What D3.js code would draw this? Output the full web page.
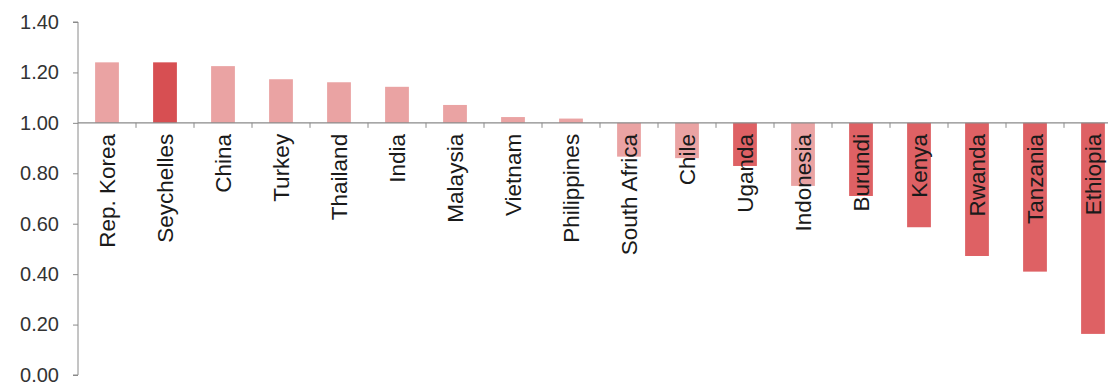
<!DOCTYPE html>
<html><head><meta charset="utf-8">
<script src="https://cdn.jsdelivr.net/npm/d3@7"></script>
<style>body{margin:0;background:#fff}svg{display:block}</style>
</head><body>
<svg id="c" width="1108" height="389"></svg>
<script>
const categories = ["Rep. Korea","Seychelles","China","Turkey","Thailand","India","Malaysia","Vietnam","Philippines","South Africa","Chile","Uganda","Indonesia","Burundi","Kenya","Rwanda","Tanzania","Ethiopia"];
const values = [1.24,1.24,1.225,1.173,1.161,1.143,1.071,1.023,1.017,0.866,0.86,0.829,0.75,0.71,0.586,0.472,0.41,0.163];
const groups = ["light","dark","light","light","light","light","light","light","light","light","light","red","light","red","red","red","red","red"];
const yTicks = [0,0.2,0.4,0.6,0.8,1.0,1.2,1.4];
const baseline = 1.0;
const colors = {light:"#eaa3a3", dark:"#d74f52", red:"#de6164"};

const svg = d3.select("#c");
const x0 = 78, band = 58;
const x = d3.scaleBand().domain(categories).range([x0, x0 + band*categories.length]).paddingInner(0.59).paddingOuter(0.295);
const y = d3.scaleLinear().domain([0,1.4]).range([375,22]);

// bars
svg.append("g").selectAll("rect").data(categories).join("rect")
  .attr("x", d => x(d))
  .attr("width", x.bandwidth())
  .attr("y", (d,i) => y(Math.max(values[i], baseline)))
  .attr("height", (d,i) => Math.abs(y(values[i]) - y(baseline)))
  .attr("fill", (d,i) => colors[groups[i]]);

// y axis
const ya = svg.append("g").attr("transform", `translate(${x0},0)`)
  .call(d3.axisLeft(y).tickValues(yTicks).tickFormat(d3.format(".2f")).tickSize(5).tickPadding(14));
ya.select(".domain").attr("stroke","#8a8a8a").attr("d", `M-5,${y(0)}H0V${y(1.4)}H-5`);
ya.selectAll(".tick line").attr("stroke","#8a8a8a");
ya.selectAll(".tick text").attr("fill","#333").style("font-family","Liberation Sans, Arial, sans-serif").style("font-size","20px");

// x axis at baseline
const xa = svg.append("g").attr("transform", `translate(0,${y(baseline)})`);
xa.append("line").attr("x1", x0).attr("x2", 1108).attr("stroke","#8a8a8a").attr("stroke-width",1.2);
const bounds = d3.range(1, categories.length).map(i => x0 + band*i);
xa.selectAll("line.t").data(bounds).join("line").attr("class","t")
  .attr("x1", d => d).attr("x2", d => d).attr("y1", 0).attr("y2", 5).attr("stroke","#8a8a8a");

// category labels
svg.append("g").selectAll("text").data(categories).join("text")
  .attr("transform", d => `translate(${x(d) + x.bandwidth()/2},${y(baseline) + 11}) rotate(-90)`)
  .attr("text-anchor","end")
  .attr("dy","0.36em")
  .attr("fill","#1a1a1a")
  .style("font-family","Liberation Sans, Arial, sans-serif")
  .style("font-size","22.5px")
  .text(d => d);
</script>
</body></html>
